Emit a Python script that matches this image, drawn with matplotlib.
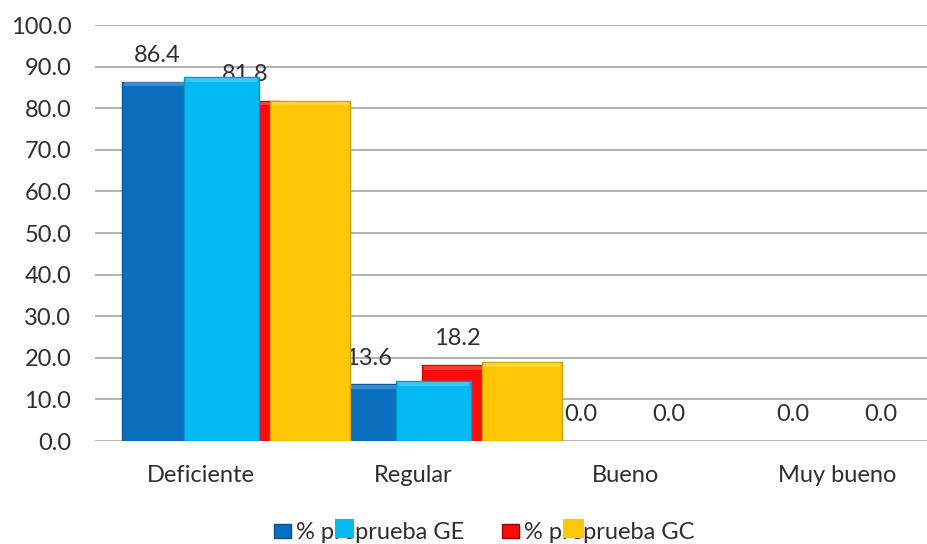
import matplotlib.pyplot as plt
import matplotlib.colors as mcolors
from matplotlib.patches import Rectangle
import numpy as np

plt.rcParams['font.family'] = ['Lato', 'DejaVu Sans']

categories = ['Deficiente', 'Regular', 'Bueno', 'Muy bueno']
pre_ge = [86.4, 13.6, 0.0, 0.0]
pre_gc = [81.8, 18.2, 0.0, 0.0]
post_ge = [87.5, 14.4, 0.0, 0.0]
post_gc = [81.8, 19.0, 0.0, 0.0]
legend_labels = ['% preprueba GE', '% preprueba GC']

c_dark = '#0A6FBF'
c_red = '#FF0A0A'
c_light = '#05B9F2'
c_yellow = '#FFC705'
txt = '#2E2E2E'
fs = 17

fig = plt.figure(figsize=(9.28, 5.44), dpi=100)
ax = fig.add_axes([95 / 928, 103 / 544, 848 / 928, 416 / 544])

x = np.arange(len(categories))


def bevel_bars(pos, vals, width, color, z):
    rgb = mcolors.to_rgb(color)
    dark = tuple(v * 0.82 for v in rgb)
    light = tuple(min(1, v + (1 - v) * 0.2) for v in rgb)
    for p, v in zip(pos, vals):
        if v <= 0:
            continue
        ax.bar(p, v, width, color=color, edgecolor=dark, linewidth=1, zorder=z)
        ax.bar(p, 0.9, width * 0.94, bottom=v - 1.1, color=light,
               linewidth=0, zorder=z + 0.1)


# base series
bevel_bars(x - 0.2075, pre_ge, 0.33, c_dark, 2)
bevel_bars(x + 0.2075, pre_gc, 0.33, c_red, 2)

for xs, vals in ((x - 0.2075, pre_ge), (x + 0.2075, pre_gc)):
    for xi, v in zip(xs, vals):
        ax.annotate(f'{v:.1f}', (xi, v), xytext=(0, 19), textcoords='offset points',
                    ha='center', va='center', fontsize=fs, color=txt, zorder=3)

# overlaid series
bevel_bars(x + 0.097, post_ge, 0.354, c_light, 4)
bevel_bars(x + 0.514, post_gc, 0.377, c_yellow, 5)

ax.set_xlim(-0.5, len(categories) - 0.5)
ax.set_ylim(0, 100)
ax.set_yticks(np.arange(0, 101, 10))
ax.set_yticklabels([f'{v:.1f}' for v in np.arange(0, 101, 10)])
ax.set_xticks(x)
ax.set_xticklabels(categories)
ax.tick_params(axis='y', length=0, pad=17, labelsize=fs, labelcolor=txt)
ax.tick_params(axis='x', length=0, pad=17, labelsize=fs, labelcolor=txt)
ax.yaxis.grid(True, color='#A6A6A6', linewidth=1.2, zorder=0)
ax.set_axisbelow(True)
for s in ax.spines.values():
    s.set_visible(False)

handles = [Rectangle((0, 0), 1, 1, facecolor=c_dark, edgecolor='#0B4F8A'),
           Rectangle((0, 0), 1, 1, facecolor=c_red, edgecolor='#A00000')]
leg = fig.legend(handles, legend_labels, loc='lower center', bbox_to_anchor=(0.522, -0.038),
                 ncol=2, frameon=False, fontsize=fs, handlelength=0.72, handleheight=0.58,
                 handletextpad=0.2, columnspacing=1.6, labelcolor=txt)

# pasted colour squares over the "r" of each legend label
fig.canvas.draw()
renderer = fig.canvas.get_renderer()
for t, col, w in ((leg.get_texts()[0], c_light, 19), (leg.get_texts()[1], c_yellow, 21)):
    bb = t.get_window_extent()
    wp, _, _ = renderer.get_text_width_height_descent('% p', t.get_fontproperties(), ismath=False)
    x0 = bb.x0 + wp + 1
    fig.add_artist(Rectangle((x0 / 928, 6 / 544), w / 928, 19 / 544, zorder=10,
                             transform=fig.transFigure, facecolor=col, edgecolor='none'))

fig.savefig('out.png', dpi=100)
